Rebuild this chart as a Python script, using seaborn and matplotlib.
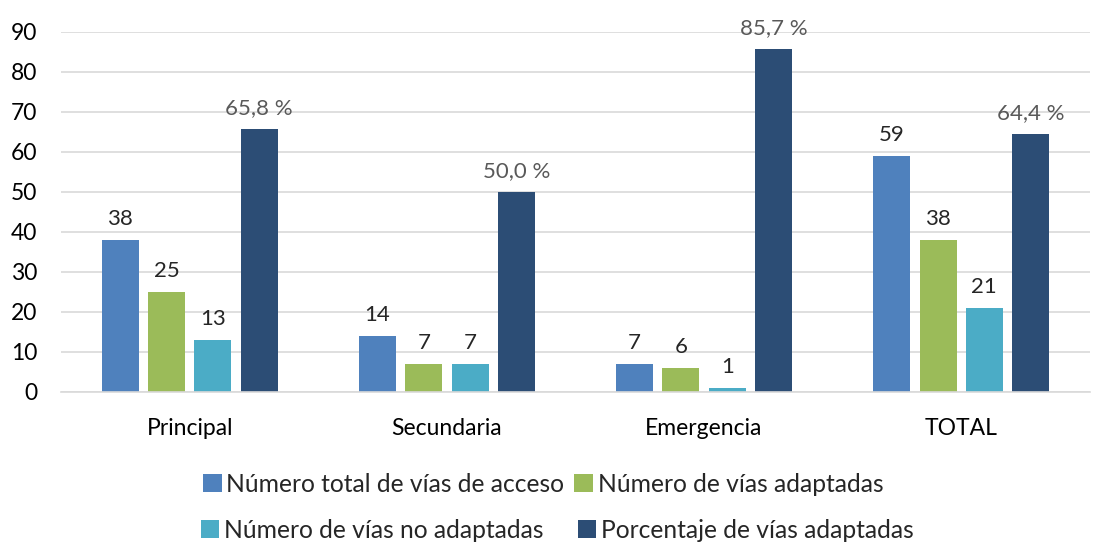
import matplotlib
matplotlib.use("Agg")
import matplotlib.pyplot as plt
import seaborn as sns
import pandas as pd
from matplotlib.patches import Patch

categories = ["Principal", "Secundaria", "Emergencia", "TOTAL"]
series = ["Número total de vías de acceso", "Número de vías adaptadas",
          "Número de vías no adaptadas", "Porcentaje de vías adaptadas"]
total_vias = [38, 14, 7, 59]
vias_adaptadas = [25, 7, 6, 38]
vias_no_adaptadas = [13, 7, 1, 21]
porcentaje = [65.8, 50.0, 85.7, 64.4]
colors = ["#4F81BD", "#9BBB59", "#4BACC6", "#2C4D75"]

rows = []
for s, vals in zip(series, [total_vias, vias_adaptadas, vias_no_adaptadas, porcentaje]):
    for c, v in zip(categories, vals):
        rows.append({"cat": c, "serie": s, "valor": v})
df = pd.DataFrame(rows)

sns.set_theme(style="white")
plt.rcParams['font.family'] = ['Lato', 'DejaVu Sans']

fig = plt.figure(figsize=(10.93, 5.42), dpi=100)
ax = fig.add_axes([0.056, 0.277, 0.941, 0.664])
sns.barplot(data=df, x="cat", y="valor", hue="serie", hue_order=series,
            palette=colors, width=0.72, gap=0.2, ax=ax, legend=False,
            saturation=1, linewidth=0, edgecolor="none")

for i, cont in enumerate(ax.containers):
    if i == 3:
        labels = [f"{v:.1f} %".replace(".", ",") for v in porcentaje]
        ax.bar_label(cont, labels=labels, padding=8, fontsize=16, color="#595959")
    else:
        ax.bar_label(cont, fmt="%d", padding=8, fontsize=16, color="#262626")

ax.set_ylim(0, 90)
ax.set_xlim(-0.5, 3.5)
ax.set_yticks(range(0, 91, 10))
ax.yaxis.grid(True, color="#D9D9D9", linewidth=1.2)
ax.set_axisbelow(True)
for sp in ["top", "right", "left"]:
    ax.spines[sp].set_visible(False)
ax.spines["bottom"].set_color("#D9D9D9")
ax.spines["bottom"].set_linewidth(1.2)
ax.tick_params(axis="y", labelsize=16.5, colors="#000000", length=0, pad=17)
ax.tick_params(axis="x", labelsize=16.5, colors="#000000", length=0, pad=19)
ax.set_xlabel("")
ax.set_ylabel("")

h = [Patch(facecolor=c, edgecolor="none") for c in colors]
fig.legend(h[:2], series[:2], ncol=2, loc="center", bbox_to_anchor=(0.497, 0.107),
           frameon=False, fontsize=17.7, handlelength=0.75, handleheight=0.75,
           handletextpad=0.2, columnspacing=0.4)
fig.legend(h[2:], series[2:], ncol=2, loc="center", bbox_to_anchor=(0.51, 0.022),
           frameon=False, fontsize=17.7, handlelength=0.75, handleheight=0.75,
           handletextpad=0.2, columnspacing=1.4)

fig.savefig("out.png", dpi=100)
